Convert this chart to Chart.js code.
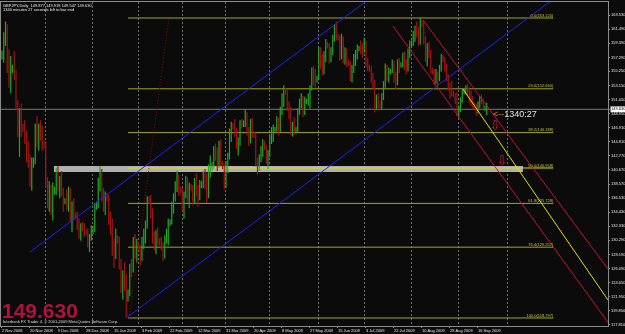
<!DOCTYPE html>
<html>
<head>
<meta charset="utf-8">
<script src="https://cdn.jsdelivr.net/npm/chart.js@4.4.0/dist/chart.umd.min.js"></script>
<style>
html, body { margin: 0; padding: 0; background: #0b0b0b; }
#wrap { width: 625px; height: 334px; }
</style>
</head>
<body>
<div id="wrap"><canvas id="c" width="625" height="334"></canvas></div>
<script>
// GBPJPY daily bars, 2 Nov 2008 .. 22 Sep 2009 (Sun..Fri, one row per week)
const opens = [
  157.5,158.0,160.2,161.8,156.0,154.5, 155.5,155.8,154.8,150.2,146.2,148.8,
  147.0,146.8,145.5,142.5,141.8,139.0, 141.5,142.0,146.8,145.2,146.5,146.0,
  144.5,144.2,138.6,136.2,137.8,135.0, 137.5,137.8,140.5,138.2,139.0,137.2,
  136.0,136.2,135.5,137.6,133.8,135.2, 134.0,133.8,132.2,131.0,132.5,132.0,
  131.5,131.3,130.0,130.8,131.8,132.0, 135.2,135.6,138.8,140.5,136.8,135.2,
  136.8,136.4,133.2,132.8,128.6,128.0, 130.5,130.2,126.8,123.2,124.8,124.0,
  121.8,122.6,126.2,125.8,130.2,128.5, 129.6,129.2,127.8,130.2,130.8,132.6,
  136.2,136.0,134.2,130.5,129.8,131.0, 130.2,129.9,129.6,128.0,130.6,131.2,
  132.8,133.0,135.2,136.8,138.2,139.8, 137.8,137.6,135.2,137.0,139.2,136.5,
  138.2,138.0,136.2,138.8,137.2,136.8, 138.5,138.6,139.8,138.5,137.0,140.8,
  141.2,141.4,143.6,142.8,141.5,144.5, 141.8,141.0,138.5,141.5,142.5,146.2,
  147.2,147.0,146.2,144.5,144.8,147.6, 147.5,147.6,148.8,146.4,145.0,147.6,
  146.0,145.8,141.6,141.2,142.4,143.6, 144.8,144.0,142.2,143.0,145.2,145.8,
  146.6,146.8,147.8,146.6,149.6,151.2, 152.4,152.2,150.0,149.2,146.4,147.2,
  146.6,146.8,149.4,150.6,151.0,149.6, 150.8,150.9,151.6,152.8,155.2,154.6,
  154.0,154.4,158.2,156.8,155.4,157.6, 159.2,159.0,157.6,158.0,160.2,161.4,
  160.4,160.2,157.6,160.0,157.2,158.0, 156.6,156.4,154.4,155.6,157.2,157.6,
  158.6,158.8,158.6,158.4,159.6,156.4, 156.0,155.6,154.4,153.6,150.0,151.2,
  150.4,150.2,151.6,153.2,155.8,154.6, 155.2,155.4,156.4,154.8,153.6,156.6,
  156.0,156.4,157.4,156.2,155.6,158.0, 159.2,159.6,160.8,161.4,161.0,159.6,
  162.4,162.2,159.8,157.4,158.8,157.8, 155.6,155.2,153.8,154.8,154.2,155.6,
  157.2,157.0,155.8,154.4,153.0,152.4, 152.2,151.8,150.8,149.2,149.8,151.0,
  152.2,152.4,152.8,152.2,151.4,150.8, 150.4,150.0,149.6,150.4,151.2,150.8,
  149.8,149.9,149.877
];
const highs = [
  158.3,161.0,162.6,162.2,158.5,157.5, 156.2,158.2,155.5,151.0,149.8,150.5,
  147.5,148.0,146.5,145.0,143.0,142.5, 142.5,147.5,148.6,147.5,148.0,147.2,
  145.0,145.0,139.6,139.0,138.5,138.8, 138.2,141.0,141.2,139.8,140.5,138.0,
  136.5,137.8,138.2,138.0,136.0,136.5, 134.4,134.5,133.5,132.8,133.0,132.8,
  131.9,132.0,131.2,132.5,132.4,135.8, 136.0,139.5,141.2,140.8,138.0,137.5,
  137.2,137.0,134.5,133.5,130.5,132.0, 131.0,130.8,127.5,125.8,127.0,125.2,
  123.0,126.8,127.5,130.8,131.2,130.5, 130.0,129.5,130.8,132.0,133.2,136.8,
  136.8,137.0,135.0,131.5,131.8,132.2, 130.6,130.8,130.0,131.0,132.0,133.5,
  133.4,136.0,137.2,139.0,140.6,140.0, 138.2,138.0,137.5,139.8,139.6,138.8,
  138.6,138.4,139.5,140.2,138.5,139.2, 139.0,140.5,140.8,140.2,141.5,142.8,
  141.8,144.2,144.6,144.0,145.0,145.2, 142.0,141.5,142.0,143.2,146.8,147.8,
  147.6,148.2,146.8,145.5,148.0,148.2, 148.0,149.6,149.2,147.0,148.2,148.4,
  146.3,146.2,142.5,143.0,144.2,145.2, 145.0,144.4,143.6,145.8,147.0,147.4,
  147.0,148.6,148.4,150.0,152.0,153.2, 152.8,152.6,150.8,150.0,147.8,148.5,
  147.0,149.8,151.2,152.0,151.6,151.5, 151.2,152.0,153.2,155.8,156.0,155.6,
  154.6,158.8,158.8,157.8,158.2,160.0, 159.6,159.4,158.8,160.6,162.2,162.6,
  160.8,160.5,160.8,160.4,158.8,158.6, 157.0,156.8,156.2,157.8,158.4,159.2,
  159.0,159.8,159.4,160.2,159.8,157.2, 156.2,156.0,155.0,154.0,151.8,152.0,
  150.8,152.0,153.8,156.4,156.2,155.8, 155.6,157.0,156.8,155.2,157.0,157.2,
  156.6,158.0,158.2,157.0,158.6,159.8, 159.8,161.2,162.0,162.6,161.8,163.12,
  162.8,162.6,160.4,159.4,159.6,158.4, 155.8,155.6,155.6,155.2,156.2,157.8,
  157.6,157.4,156.4,154.8,153.6,153.8, 152.4,152.0,152.2,150.2,151.4,152.6,
  152.6,153.2,153.4,152.8,152.4,151.6, 150.6,150.4,150.8,151.6,151.8,151.2,
  150.2,150.6,149.918
];
const lows = [
  157.0,156.5,159.0,155.0,152.8,152.0, 155.0,154.0,149.5,145.5,142.6,145.5,
  146.3,144.5,141.8,141.0,138.2,137.6, 141.0,141.5,144.0,143.5,145.0,143.5,
  143.8,138.0,135.0,134.5,134.0,133.2, 137.0,137.0,137.5,136.5,136.8,134.5,
  135.6,134.8,134.5,133.0,131.5,133.2, 133.5,131.8,130.5,130.2,131.6,130.8,
  131.0,129.2,128.5,130.2,131.2,131.5, 134.8,135.0,137.5,136.0,134.5,134.0,
  136.0,132.5,131.0,128.0,126.2,127.5, 129.8,126.0,122.5,121.5,122.8,118.8,
  121.2,122.0,124.8,125.5,127.5,127.0, 128.8,126.5,127.2,129.0,129.8,132.0,
  135.6,133.5,129.8,128.8,128.2,129.5, 129.5,128.8,127.2,127.6,129.8,129.5,
  132.4,132.6,134.2,136.0,137.4,136.8, 137.2,134.5,133.5,136.5,135.8,135.0,
  137.6,135.5,135.8,136.8,135.2,136.2, 138.0,138.0,137.8,135.8,136.5,139.5,
  140.6,140.8,142.0,140.5,141.0,141.2, 140.8,137.8,138.0,140.2,142.2,144.8,
  146.6,145.6,143.8,142.8,144.2,146.8, 147.0,147.0,145.8,144.2,144.6,145.5,
  145.4,141.2,140.0,140.5,141.8,142.6, 143.6,141.6,140.8,142.6,144.5,144.8,
  146.2,146.4,145.8,146.2,148.8,150.0, 151.8,149.4,148.2,145.8,145.6,145.8,
  146.0,146.2,148.8,149.8,148.5,148.8, 150.4,150.2,149.8,152.4,153.2,152.8,
  153.6,154.0,155.6,154.6,154.8,156.6, 158.6,156.4,156.6,157.6,159.6,159.8,
  159.8,156.8,157.0,156.4,156.2,155.8, 156.0,153.8,153.6,155.0,156.0,157.0,
  158.2,157.8,157.2,158.0,155.8,155.2, 155.2,153.6,152.6,149.2,149.6,149.8,
  149.8,149.6,151.0,152.8,153.8,153.6, 154.8,155.0,153.6,152.6,153.2,155.0,
  155.8,155.8,155.4,154.8,155.2,157.2, 158.8,159.0,159.6,160.2,159.0,159.2,
  161.8,159.2,156.6,156.0,157.2,155.0, 154.8,153.2,153.4,153.0,153.8,155.2,
  156.6,155.2,153.8,152.4,151.2,151.6, 151.4,150.4,148.6,148.4,149.2,150.6,
  151.8,151.8,151.6,150.6,150.2,149.6, 149.8,148.8,149.0,149.8,150.4,149.4,
  149.4,148.8,149.547
];
const closes = [
  158.0,160.2,161.8,156.0,154.5,155.5, 155.8,154.8,150.2,146.2,148.8,147.0,
  146.8,145.5,142.5,141.8,139.0,141.5, 142.0,146.8,145.2,146.5,146.0,144.5,
  144.2,138.6,136.2,137.8,135.0,137.5, 137.8,140.5,138.2,139.0,137.2,136.0,
  136.2,135.5,137.6,133.8,135.2,134.0, 133.8,132.2,131.0,132.5,132.0,131.5,
  131.3,130.0,130.8,131.8,132.0,135.2, 135.6,138.8,140.5,136.8,135.2,136.8,
  136.4,133.2,132.8,128.6,128.0,130.5, 130.2,126.8,123.2,124.8,124.0,121.8,
  122.6,126.2,125.8,130.2,128.5,129.6, 129.2,127.8,130.2,130.8,132.6,136.2,
  136.0,134.2,130.5,129.8,131.0,130.2, 129.9,129.6,128.0,130.6,131.2,132.8,
  133.0,135.2,136.8,138.2,139.8,137.8, 137.6,135.2,137.0,139.2,136.5,138.2,
  138.0,136.2,138.8,137.2,136.8,138.5, 138.6,139.8,138.5,137.0,140.8,141.2,
  141.4,143.6,142.8,141.5,144.5,141.8, 141.0,138.5,141.5,142.5,146.2,147.2,
  147.0,146.2,144.5,144.8,147.6,147.5, 147.6,148.8,146.4,145.0,147.6,146.0,
  145.8,141.6,141.2,142.4,143.6,144.8, 144.0,142.2,143.0,145.2,145.8,146.6,
  146.8,147.8,146.6,149.6,151.2,152.4, 152.2,150.0,149.2,146.4,147.2,146.6,
  146.8,149.4,150.6,151.0,149.6,150.8, 150.9,151.6,152.8,155.2,154.6,154.0,
  154.4,158.2,156.8,155.4,157.6,159.2, 159.0,157.6,158.0,160.2,161.4,160.4,
  160.2,157.6,160.0,157.2,158.0,156.6, 156.4,154.4,155.6,157.2,157.6,158.6,
  158.8,158.6,158.4,159.6,156.4,156.0, 155.6,154.4,153.6,150.0,151.2,150.4,
  150.2,151.6,153.2,155.8,154.6,155.2, 155.4,156.4,154.8,153.6,156.6,156.0,
  156.4,157.4,156.2,155.6,158.0,159.2, 159.6,160.8,161.4,161.0,159.6,162.4,
  162.2,159.8,157.4,158.8,157.8,155.6, 155.2,153.8,154.8,154.2,155.6,157.2,
  157.0,155.8,154.4,153.0,152.4,152.2, 151.8,150.8,149.2,149.8,151.0,152.2,
  152.4,152.8,152.2,151.4,150.8,150.4, 150.0,149.6,150.4,151.2,150.8,149.8,
  149.9,149.9,149.63
];

// axis labels (bar index -> date text), month grid lines, price ticks
const dateIdx = [0,16,32,48,64,80,96,112,128,144,160,176,192,208,224,240,256,272];
const dateLabels = ['2 Nov 2008','20 Nov 2008','9 Dec 2008','28 Dec 2008','15 Jan 2009','3 Feb 2009',
  '22 Feb 2009','12 Mar 2009','31 Mar 2009','20 Apr 2009','8 May 2009','27 May 2009',
  '15 Jun 2009','3 Jul 2009','22 Jul 2009','10 Aug 2009','28 Aug 2009','16 Sep 2009'];
const monthIdx = [25,52,78,103,128,153,181,207,234,261,289];
const priceTicks = [163.53,161.49,159.39,157.29,155.25,153.15,151.05,148.95,146.91,144.81,142.77,
  140.67,138.57,136.53,134.43,132.33,130.29,128.19,126.09,124.05,121.95,119.85,117.81];
const lastPrice = 149.63;

// fibonacci retracement
const fibLevels = [0, 23.6, 38.2, 50, 61.8, 76.4, 100];
const fibPrices = [163.120, 152.660, 146.188, 140.958, 135.728, 129.257, 118.797];
const fibFrom = 72, fibTo = 315;

// drawn objects: [bar index, price] anchors
const blueLow = [[71, 118.8], [346, 171.9]];
const blueHigh = [[16, 128.55], [346, 192.2]];
const redHigh = [[240.6, 162.82], [346.3, 126.03]];
const redLow = [[223.4, 161.94], [346.3, 118.14]];
const yellowMid = [[263.4, 152.63], [346.3, 121.45]];
const redDotted = [[72.6, 118.8], [95.4, 163.12]];
const zone = { from: 29.7, to: 297.7, top: 141.25, bottom: 140.37 };
const arrowIdx = [281.7, 285.7];
const arrowPrice = [147.0, 141.85];
const countdown = { idx: 280.6, price: 148.9, text: '1340:27' };

const seg = pts => pts.map(([x, y]) => ({ x, y }));
const line = (pts, color, order, extra) => Object.assign({
  type: 'line', data: seg(pts), borderColor: color, borderWidth: 1,
  pointRadius: 0, fill: false, order
}, extra || {});

const xMin = -0.571, xMax = 346.286;

const datasets = [];
datasets.push(line([[zone.from, zone.top], [zone.to, zone.top]], 'rgba(0,0,0,0)', 20,
  { borderWidth: 0, fill: '+1', backgroundColor: '#b0b0b0' }));
datasets.push(line([[zone.from, zone.bottom], [zone.to, zone.bottom]], 'rgba(0,0,0,0)', 20, { borderWidth: 0 }));
datasets.push(line([[xMin, lastPrice], [xMax, lastPrice]], '#7a7a7a', 15));
fibLevels.forEach((lv, i) => {
  datasets.push(line([[fibFrom, fibPrices[i]], [fibTo, fibPrices[i]]], lv === 50 ? '#e0e010' : '#a4a424', 12));
});
datasets.push({
  type: 'bar',
  data: highs.map((h, i) => ({ x: i, y: [lows[i], h] })),
  backgroundColor: ctx => closes[ctx.dataIndex] >= opens[ctx.dataIndex] ? '#22a822' : '#a41414',
  barThickness: 1.2, borderWidth: 0, inflateAmount: 0, order: 10
});
datasets.push(line(redDotted, '#8a0a0a', 4, { borderDash: [1, 2] }));
datasets.push(line(blueHigh, '#2222f0', 3));
datasets.push(line(blueLow, '#2222f0', 3));
datasets.push(line(redHigh, '#c8103c', 2));
datasets.push(line(redLow, '#c8103c', 2));
datasets.push(line(yellowMid, '#e4e400', 1));

const small = { size: 4, family: 'Liberation Sans' };

const overlay = {
  id: 'overlay',
  beforeDraw(chart) {
    const { ctx } = chart;
    ctx.save();
    ctx.fillStyle = '#0b0b0b';
    ctx.fillRect(0, 0, chart.width, chart.height);
    ctx.restore();
  },
  afterDatasetsDraw(chart) {
    const { ctx, scales: { x, y } } = chart;
    ctx.save();
    // fibo labels
    ctx.font = '4px "Liberation Sans"';
    ctx.textAlign = 'right';
    ctx.textBaseline = 'bottom';
    ctx.fillStyle = '#c0c040';
    fibLevels.forEach((lv, i) => {
      ctx.fillText(lv.toFixed(1) + '(' + fibPrices[i].toFixed(3) + ')',
        x.getPixelForValue(fibTo), y.getPixelForValue(fibPrices[i]) - 0.5);
    });
    // arrows
    ctx.font = '13px "DejaVu Sans"';
    ctx.textAlign = 'center';
    ctx.textBaseline = 'middle';
    ctx.fillStyle = '#d8143c';
    arrowIdx.forEach((v, i) => ctx.fillText('\u21E9', x.getPixelForValue(v), y.getPixelForValue(arrowPrice[i])));
    // countdown
    ctx.font = '9px "Liberation Sans"';
    ctx.textAlign = 'left';
    const cx = x.getPixelForValue(countdown.idx), cy = y.getPixelForValue(countdown.price);
    ctx.fillStyle = '#e0782c';
    ctx.fillText('<--', cx, cy);
    ctx.fillStyle = '#e4e4e4';
    ctx.fillText(countdown.text, cx + ctx.measureText('<--').width, cy);
    ctx.restore();
  },
  afterDraw(chart) {
    const { ctx, chartArea: a } = chart;
    ctx.save();
    ctx.strokeStyle = '#8c8c8c';
    ctx.lineWidth = 1;
    ctx.strokeRect(a.left - 0.5, a.top - 0.5, a.right - a.left + 1, a.bottom - a.top + 1);
    ctx.fillStyle = '#e8e8e8';
    ctx.font = '4px "Liberation Sans"';
    ctx.textBaseline = 'middle';
    ctx.fillText('GBPJPY,Daily  ' + [opens, highs, lows, closes].map(s => s[s.length - 1].toFixed(3)).join(' '), 3, 5.5);
    ctx.fillText('1340 minutes 27 seconds left to bar end', 3, 9.5);
    ctx.font = 'bold 21px "Liberation Sans"';
    ctx.textBaseline = 'alphabetic';
    ctx.fillStyle = '#b0123f';
    ctx.fillText(lastPrice.toFixed(3), 2, 318);
    ctx.font = '4px "Liberation Sans"';
    ctx.fillStyle = '#d8d8d8';
    ctx.fillText('Interbank FX Trader 4, \u00A9 2001-2009 MetaQuotes Software Corp.', 3, 323);
    ctx.restore();
  }
};

new Chart(document.getElementById('c'), {
  type: 'bar',
  data: { datasets },
  plugins: [overlay],
  options: {
    responsive: false,
    animation: false,
    devicePixelRatio: 1,
    layout: { padding: { top: 2, left: 1, right: 0, bottom: 0 } },
    plugins: { legend: { display: false }, tooltip: { enabled: false } },
    scales: {
      x: {
        type: 'linear', position: 'bottom', min: xMin, max: xMax, offset: false, bounds: 'data',
        grid: { display: true, drawOnChartArea: false, color: '#8c8c8c', tickLength: 2, offset: false },
        border: { display: true, color: '#8c8c8c' },
        ticks: {
          autoSkip: false, maxRotation: 0, minRotation: 0, align: 'start', padding: 0,
          color: '#e4e4e4', font: small,
          callback: (v, i) => dateLabels[i]
        },
        afterBuildTicks: a => { a.ticks = dateIdx.map(v => ({ value: v })); },
        afterFit: a => { a.height = 8; a.paddingLeft = 0; a.paddingRight = 0; }
      },
      xg: {
        type: 'linear', position: 'bottom', min: xMin, max: xMax, offset: false, bounds: 'data',
        grid: { display: true, drawTicks: false, color: '#6c6c6c', offset: false },
        border: { display: false, dash: [2, 2] },
        ticks: { display: false },
        afterBuildTicks: a => { a.ticks = monthIdx.map(v => ({ value: v })); },
        afterFit: a => { a.height = 0; a.paddingLeft = 0; a.paddingRight = 0; }
      },
      y: {
        type: 'linear', position: 'right', min: 117.612, max: 165.484, beginAtZero: false, bounds: 'data',
        grid: { display: true, drawOnChartArea: false, color: '#8c8c8c', tickLength: 2 },
        border: { display: true, color: '#8c8c8c' },
        ticks: {
          autoSkip: false, padding: 1, font: small,
          color: c => (c.tick && c.tick.value === lastPrice) ? '#000000' : '#e4e4e4',
          showLabelBackdrop: true,
          backdropColor: c => (c.tick && c.tick.value === lastPrice) ? '#ffffff' : 'rgba(0,0,0,0)',
          backdropPadding: { top: 0.5, bottom: 0.5, left: 0.5, right: 2 },
          callback: v => v.toFixed(3)
        },
        afterBuildTicks: a => { a.ticks = priceTicks.concat([lastPrice]).map(v => ({ value: v })); },
        afterFit: a => { a.width = 17; a.paddingTop = 0; a.paddingBottom = 0; }
      }
    }
  }
});
</script>
</body>
</html>
